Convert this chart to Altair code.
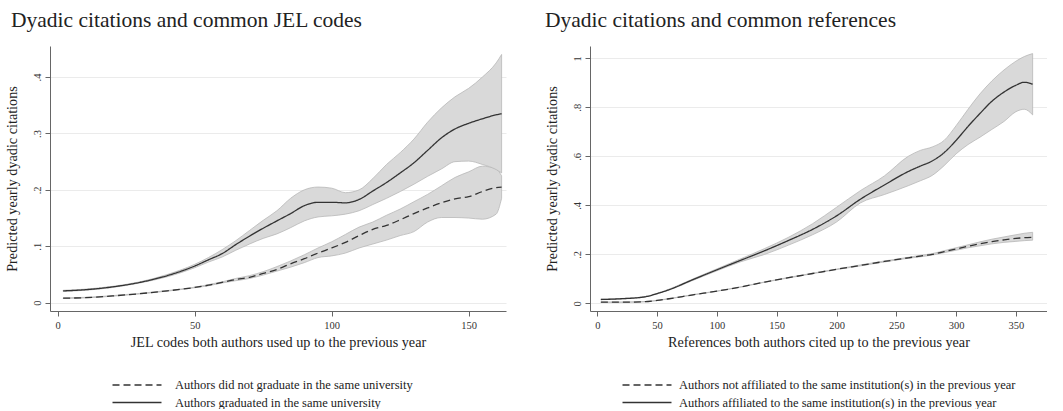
import altair as alt
import pandas as pd

# ---------------- Left panel: common JEL codes ----------------
jel_x = [2, 10, 20, 30, 40, 50, 55, 60, 65, 70, 75, 80, 85, 90, 95, 100, 105, 110,
         115, 120, 125, 130, 135, 140, 145, 150, 155, 160, 162]
jel_same = [0.021, 0.023, 0.028, 0.036, 0.048, 0.065, 0.076, 0.087, 0.103, 0.118, 0.132,
            0.145, 0.158, 0.172, 0.178, 0.178, 0.177, 0.183, 0.198, 0.213, 0.230, 0.248,
            0.270, 0.292, 0.308, 0.318, 0.326, 0.333, 0.335]
jel_same_hi = [0.022, 0.024, 0.029, 0.037, 0.050, 0.068, 0.080, 0.094, 0.110, 0.128, 0.146,
               0.163, 0.185, 0.200, 0.205, 0.203, 0.195, 0.200, 0.220, 0.245, 0.266, 0.290,
               0.320, 0.345, 0.365, 0.380, 0.400, 0.425, 0.440]
jel_same_lo = [0.020, 0.022, 0.027, 0.035, 0.046, 0.062, 0.072, 0.081, 0.093, 0.104, 0.114,
               0.122, 0.133, 0.145, 0.152, 0.154, 0.157, 0.163, 0.174, 0.185, 0.197, 0.210,
               0.224, 0.237, 0.250, 0.251, 0.245, 0.236, 0.230]
jel_diff = [0.008, 0.009, 0.012, 0.016, 0.021, 0.027, 0.031, 0.036, 0.041, 0.045, 0.052,
            0.059, 0.069, 0.078, 0.088, 0.097, 0.107, 0.119, 0.130, 0.137, 0.147, 0.158,
            0.168, 0.177, 0.184, 0.188, 0.197, 0.204, 0.205]
jel_diff_hi = [0.0085, 0.0095, 0.0125, 0.0165, 0.0215, 0.0275, 0.032, 0.037, 0.043, 0.048,
               0.055, 0.064, 0.074, 0.085, 0.097, 0.108, 0.121, 0.134, 0.143, 0.155, 0.166,
               0.179, 0.192, 0.207, 0.222, 0.232, 0.242, 0.237, 0.225]
jel_diff_lo = [0.0075, 0.0085, 0.0115, 0.0155, 0.0205, 0.0265, 0.030, 0.035, 0.039, 0.043,
               0.049, 0.056, 0.063, 0.071, 0.080, 0.083, 0.088, 0.097, 0.104, 0.111, 0.119,
               0.126, 0.143, 0.151, 0.151, 0.150, 0.148, 0.157, 0.185]

# ---------------- Right panel: common references ----------------
ref_x = [3, 20, 40, 50, 60, 80, 100, 120, 140, 160, 180, 200, 220, 240, 260, 270, 280,
         290, 300, 310, 320, 330, 340, 350, 357, 364]
ref_same = [0.016, 0.019, 0.027, 0.040, 0.056, 0.097, 0.137, 0.176, 0.215, 0.257, 0.302,
            0.357, 0.425, 0.483, 0.538, 0.560, 0.581, 0.615, 0.665, 0.722, 0.775, 0.825,
            0.862, 0.890, 0.902, 0.894]
ref_same_hi = [0.017, 0.020, 0.028, 0.041, 0.058, 0.100, 0.141, 0.182, 0.224, 0.270, 0.325,
               0.392, 0.460, 0.520, 0.600, 0.624, 0.638, 0.665, 0.725, 0.792, 0.855, 0.908,
               0.952, 0.988, 1.007, 1.019]
ref_same_lo = [0.015, 0.018, 0.026, 0.039, 0.054, 0.094, 0.133, 0.170, 0.200, 0.238, 0.280,
               0.332, 0.410, 0.444, 0.480, 0.500, 0.522, 0.562, 0.610, 0.648, 0.678, 0.710,
               0.742, 0.782, 0.792, 0.769]
ref_diff = [0.005, 0.005, 0.007, 0.012, 0.019, 0.035, 0.050, 0.067, 0.087, 0.105, 0.122,
            0.139, 0.155, 0.171, 0.186, 0.193, 0.200, 0.211, 0.222, 0.233, 0.243, 0.252,
            0.259, 0.265, 0.268, 0.270]
ref_diff_hi = [0.0055, 0.0055, 0.0075, 0.0125, 0.0195, 0.0355, 0.0505, 0.0675, 0.0875, 0.106,
               0.123, 0.140, 0.157, 0.173, 0.188, 0.196, 0.203, 0.215, 0.227, 0.239, 0.251,
               0.262, 0.271, 0.280, 0.286, 0.290]
ref_diff_lo = [0.0045, 0.0045, 0.0065, 0.0115, 0.0185, 0.0345, 0.0495, 0.0665, 0.0865, 0.104,
               0.121, 0.138, 0.153, 0.169, 0.184, 0.190, 0.197, 0.207, 0.217, 0.227, 0.235,
               0.243, 0.249, 0.253, 0.256, 0.258]

jel_labels = ["Authors did not graduate in the same university",
              "Authors graduated in the same university"]
ref_labels = ["Authors not affiliated to the same institution(s) in the previous year",
              "Authors affiliated to the same institution(s) in the previous year"]

FONT = "Liberation Serif"
INK = "#333333"


def frame(xs, mid, lo, hi, label):
    return pd.DataFrame({"x": xs, "y": mid, "lo": lo, "hi": hi, "group": label})


jel_df = pd.concat([frame(jel_x, jel_diff, jel_diff_lo, jel_diff_hi, jel_labels[0]),
                    frame(jel_x, jel_same, jel_same_lo, jel_same_hi, jel_labels[1])])
ref_df = pd.concat([frame(ref_x, ref_diff, ref_diff_lo, ref_diff_hi, ref_labels[0]),
                    frame(ref_x, ref_same, ref_same_lo, ref_same_hi, ref_labels[1])])

YLAB = ("datum.value == 0 ? '0' : datum.value == 1 ? '1' : "
        "replace(format(datum.value, '.1f'), '0.', '.')")


def panel(df, xdom, ydom, xticks, yticks, xtitle, title, labels, legend_x, label_offset,
          width, title_dx):
    xaxis = alt.Axis(values=xticks, title=xtitle, grid=False, domainColor="#666",
                     tickColor="#666", tickSize=5, labelFont=FONT, labelFontSize=10.5,
                     labelColor=INK, labelPadding=4, titleFont=FONT, titleFontSize=14.2,
                     titleFontWeight="normal", titleColor="#222", titlePadding=5,
                     labelFlush=False)
    yaxis = alt.Axis(values=yticks, title="Predicted yearly dyadic citations", grid=True,
                     gridColor="#ebebeb", gridWidth=1, domainColor="#666", tickColor="#666",
                     tickSize=5, labelFont=FONT, labelFontSize=10.5, labelColor=INK,
                     labelAngle=270, labelAlign="center", labelBaseline="bottom",
                     labelPadding=3, labelExpr=YLAB, titleFont=FONT, titleFontSize=14.2,
                     titleFontWeight="normal", titleColor="#222", titlePadding=13,
                     labelFlush=False)
    xs = alt.Scale(domain=xdom, nice=False, zero=False)
    ys = alt.Scale(domain=ydom, nice=False, zero=False)
    base = alt.Chart(df)
    band = base.mark_area(fill="#d9d9d9", stroke="#b8b8b8", strokeWidth=0.8,
                          interpolate="monotone").encode(
        x=alt.X("x:Q", scale=xs, axis=xaxis),
        y=alt.Y("lo:Q", scale=ys, axis=yaxis),
        y2="hi:Q",
        detail="group:N",
    )
    line = base.mark_line(color=INK, strokeWidth=1.3, interpolate="monotone").encode(
        x=alt.X("x:Q", scale=xs, axis=xaxis),
        y=alt.Y("y:Q", scale=ys, axis=yaxis),
        strokeDash=alt.StrokeDash(
            "group:N",
            scale=alt.Scale(domain=labels, range=[[7, 4], [1, 0]]),
            legend=alt.Legend(title=None, orient="none", legendX=legend_x, legendY=332,
                              direction="vertical", symbolType="M-4,0H4", symbolSize=150,
                              symbolStrokeWidth=1.3, symbolStrokeColor=INK,
                              labelFont=FONT, labelFontSize=12.5, labelColor="#222",
                              labelOffset=label_offset, rowPadding=3.5, padding=0,
                              labelLimit=600),
        ),
    )
    return alt.layer(band, line).properties(
        width=width, height=265,
        title=alt.TitleParams(title, anchor="start", frame="bounds", font=FONT,
                              fontSize=21.5, fontWeight="normal", color="#222", offset=15,
                              dx=title_dx),
    ).resolve_scale(strokeDash="independent")


left = panel(jel_df, [-2.8, 163.6], [-0.0147, 0.455], [0, 50, 100, 150],
             [0, 0.1, 0.2, 0.3, 0.4], "JEL codes both authors used up to the previous year",
             "Dyadic citations and common JEL codes", jel_labels, 80, 31, 456, 6)
right = panel(ref_df, [-6.1, 376], [-0.031, 1.05], [0, 50, 100, 150, 200, 250, 300, 350],
              [0, 0.2, 0.4, 0.6, 0.8, 1.0], "References both authors cited up to the previous year",
              "Dyadic citations and common references", ref_labels, 50, 25, 457, 0)

chart = alt.hconcat(left, right, spacing=38).resolve_scale(
    x="independent", y="independent", strokeDash="independent"
).resolve_legend(strokeDash="independent").configure(
    padding={"left": 5, "top": 9, "right": 0, "bottom": 0},
    background="white",
).configure_view(stroke=None)

chart.save("out.html", embed_options={"renderer": "svg", "actions": False})
